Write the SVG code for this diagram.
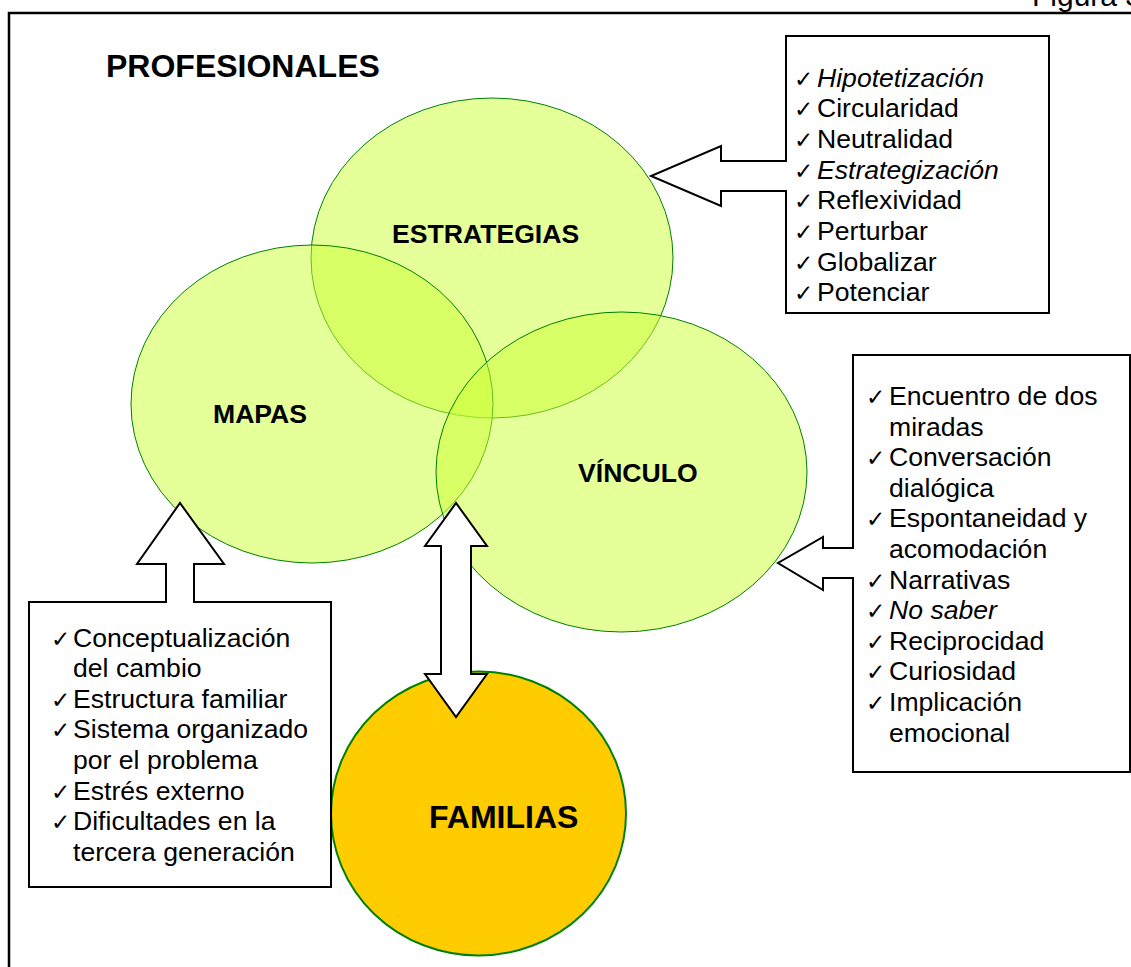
<svg xmlns="http://www.w3.org/2000/svg" width="1131" height="967" viewBox="0 0 1131 967">
<style>
.frame{fill:none;stroke:#000;stroke-width:2.5}
.circ{fill:#CCFF33;fill-opacity:0.5;stroke:#008000;stroke-width:1}
.fam{fill:#FFCC00;stroke:#008000;stroke-width:2}
.box{fill:#fff;stroke:#000;stroke-width:2}
.arw{fill:#fff;stroke:none}
.arl{fill:none;stroke:#000;stroke-width:2;stroke-linejoin:miter}
.arf{fill:#fff;stroke:#000;stroke-width:2}
.h{font-family:"Liberation Sans",Arial,sans-serif;font-weight:bold;fill:#000}
.t{font-family:"Liberation Sans",Arial,sans-serif;font-size:26.6px;fill:#000}
.ck{font-family:"DejaVu Sans",sans-serif;font-size:23px;fill:#000}
.i{font-style:italic}
</style>
<text x="1032" y="6" class="t" style="font-size:30px">Figura 3</text>
<path class="frame" d="M9,967 V13 H1131"/>
<text x="106" y="77" class="h" style="font-size:32px">PROFESIONALES</text>

<g id="estrategias">
<ellipse class="circ" cx="492" cy="258" rx="181" ry="160"/>
<text x="392" y="243" class="h" style="font-size:26.6px">ESTRATEGIAS</text>
</g>
<g id="mapas">
<ellipse class="circ" cx="312" cy="404" rx="181" ry="159"/>
<text x="213" y="423" class="h" style="font-size:26.6px">MAPAS</text>
</g>
<g id="vinculo">
<ellipse class="circ" cx="621.5" cy="472" rx="185.5" ry="160"/>
<text x="578" y="482" class="h" style="font-size:26.6px">VÍNCULO</text>
</g>
<g id="familias">
<ellipse class="fam" cx="478.5" cy="813.5" rx="147.5" ry="142"/>
<text x="429" y="828" class="h" style="font-size:32px">FAMILIAS</text>
</g>

<g id="box-estrategias">
<rect class="box" x="786" y="36" width="263" height="277"/>
<g class="ck">
<text x="794" y="86.5">✓</text><text x="794" y="117.2">✓</text><text x="794" y="147.9">✓</text><text x="794" y="178.6">✓</text>
<text x="794" y="209.3">✓</text><text x="794" y="240">✓</text><text x="794" y="270.7">✓</text><text x="794" y="301.4">✓</text>
</g>
<g class="t">
<text x="817" y="86.5" class="i">Hipotetización</text>
<text x="817" y="117.2">Circularidad</text>
<text x="817" y="147.9">Neutralidad</text>
<text x="817" y="178.6" class="i">Estrategización</text>
<text x="817" y="209.3">Reflexividad</text>
<text x="817" y="240">Perturbar</text>
<text x="817" y="270.7">Globalizar</text>
<text x="817" y="301.4">Potenciar</text>
</g>
</g>

<g id="box-vinculo">
<rect class="box" x="853" y="355" width="277" height="417"/>
<g class="ck">
<text x="866" y="405">✓</text><text x="866" y="466.2">✓</text><text x="866" y="527.4">✓</text><text x="866" y="588.6">✓</text>
<text x="866" y="619.2">✓</text><text x="866" y="649.8">✓</text><text x="866" y="680.4">✓</text><text x="866" y="711">✓</text>
</g>
<g class="t">
<text x="889" y="405">Encuentro de dos</text>
<text x="889" y="435.6">miradas</text>
<text x="889" y="466.2">Conversación</text>
<text x="889" y="496.8">dialógica</text>
<text x="889" y="527.4">Espontaneidad y</text>
<text x="889" y="558">acomodación</text>
<text x="889" y="588.6">Narrativas</text>
<text x="889" y="619.2" class="i">No saber</text>
<text x="889" y="649.8">Reciprocidad</text>
<text x="889" y="680.4">Curiosidad</text>
<text x="889" y="711">Implicación</text>
<text x="889" y="741.6">emocional</text>
</g>
</g>

<g id="box-mapas">
<rect class="box" x="29" y="602" width="302" height="285"/>
<g class="ck">
<text x="51" y="646.5">✓</text><text x="51" y="707.7">✓</text><text x="51" y="738.3">✓</text><text x="51" y="799.5">✓</text><text x="51" y="830.1">✓</text>
</g>
<g class="t">
<text x="73" y="646.5">Conceptualización</text>
<text x="73" y="677.1">del cambio</text>
<text x="73" y="707.7">Estructura familiar</text>
<text x="73" y="738.3">Sistema organizado</text>
<text x="73" y="768.9">por el problema</text>
<text x="73" y="799.5">Estrés externo</text>
<text x="73" y="830.1">Dificultades en la</text>
<text x="73" y="860.7">tercera generación</text>
</g>
</g>

<g id="connectors">
<polygon class="arw" points="789,161 721,161 721,146 651,176 721,206 721,191 789,191"/>
<path class="arl" d="M787,161 H721 V146 L651,176 L721,206 V191 H787"/>
<polygon class="arw" points="856,548 823,548 823,537 778,563 823,590 823,578 856,578"/>
<path class="arl" d="M854,548 H823 V537 L778,563 L823,590 V578 H854"/>
<polygon class="arw" points="166,605 166,564 137,564 180,503 224,564 194,564 194,605"/>
<path class="arl" d="M166,603 V564 H137 L180,503 L224,564 H194 V603"/>
<path class="arf" d="M441,546 H425 L456,503 L487,546 H471 V674 H487 L456,717 L425,674 H441 Z"/>
</g>
</svg>
